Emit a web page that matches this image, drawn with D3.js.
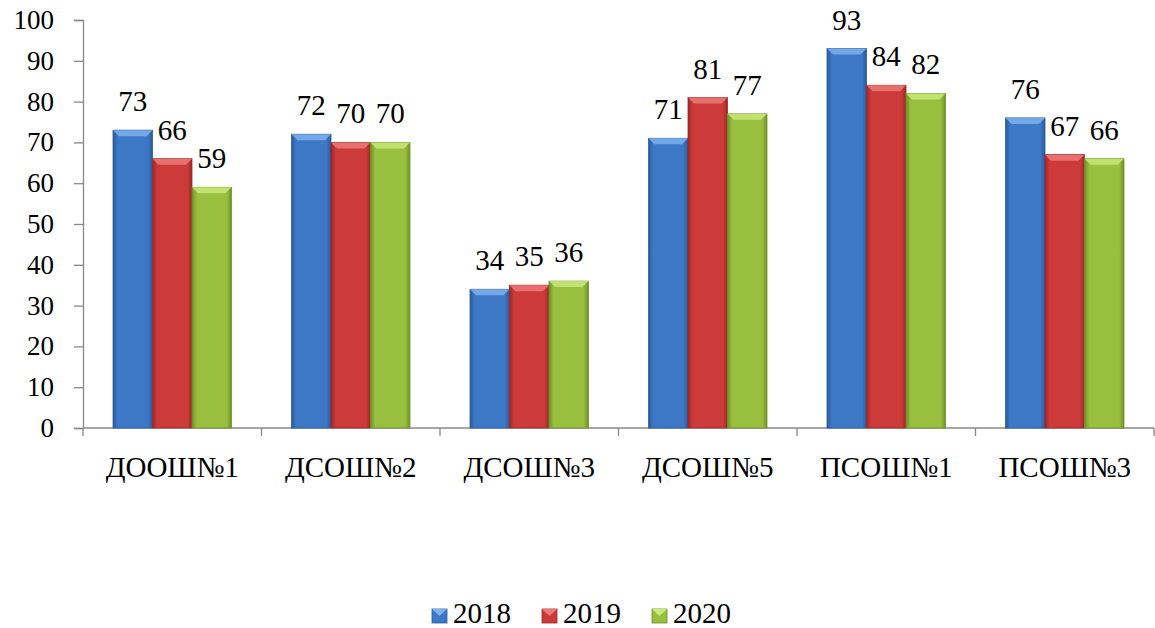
<!DOCTYPE html>
<html><head><meta charset="utf-8">
<script src="https://cdn.jsdelivr.net/npm/d3@7"></script>
</head>
<body style="margin:0">
<svg id="s" width="1155" height="628" font-family="Times New Roman, serif" style="font-family: 'Times New Roman', 'Liberation Serif', serif"></svg>
<script>
// data
var schools = ["ДООШ№1", "ДСОШ№2", "ДСОШ№3", "ДСОШ№5", "ПСОШ№1", "ПСОШ№3"];
var years = ["2018", "2019", "2020"];
var values2018 = [73, 72, 34, 71, 93, 76];
var values2019 = [66, 70, 35, 81, 84, 67];
var values2020 = [59, 70, 36, 77, 82, 66];
var yTicks = [0, 10, 20, 30, 40, 50, 60, 70, 80, 90, 100];

var seriesValues = [values2018, values2019, values2020];
var colors = ["#3d78c6", "#cc3b3a", "#98bf3e"];
var lights = ["#7fb0ec", "#ec7b78", "#c8e87a"];
var darks = ["#2a5a9c", "#9c2828", "#6f9128"];

var svg = d3.select("#s");

// scales
var x0 = d3.scaleBand().domain(schools).range([83, 1154]).padding(0);
var x1 = d3.scaleBand().domain(years).range([0, x0.bandwidth()]).paddingInner(0).paddingOuter(0.76);
var y = d3.scaleLinear().domain([0, 100]).range([428, 20]);

// gradients for bevelled bars
var defs = svg.append("defs");
years.forEach(function (yr, i) {
    var g = defs.append("linearGradient").attr("id", "grad" + i)
        .attr("x1", 0).attr("x2", 1).attr("y1", 0).attr("y2", 0);
    g.append("stop").attr("offset", "0%").attr("stop-color", darks[i]);
    g.append("stop").attr("offset", "12%").attr("stop-color", colors[i]);
    g.append("stop").attr("offset", "88%").attr("stop-color", colors[i]);
    g.append("stop").attr("offset", "100%").attr("stop-color", darks[i]);
});

// y axis line and ticks
var yAxis = svg.append("g")
    .attr("transform", "translate(83,0)")
    .call(d3.axisLeft(y).tickValues(yTicks).tickSize(9).tickFormat(""));
yAxis.attr("font-family", null).attr("font-size", null);
yAxis.select(".domain").attr("stroke", "#888").attr("stroke-width", 1.3);
yAxis.selectAll(".tick line").attr("stroke", "#888").attr("stroke-width", 1.3);
yAxis.selectAll(".tick text").remove();

// y tick labels
svg.selectAll(".ylab").data(yTicks).enter().append("text")
    .attr("x", 54)
    .attr("y", function (d) { return y(d) + 9; })
    .attr("text-anchor", "end")
    .attr("font-size", 27)
    .text(function (d) { return d; });

// x axis
var xAxisG = svg.append("g").attr("transform", "translate(0,428)");
xAxisG.append("line").attr("x1", 83).attr("x2", 1154).attr("y1", 0).attr("y2", 0)
    .attr("stroke", "#888").attr("stroke-width", 1.3);
var tickPos = schools.map(function (s) { return x0(s); }).concat([x0(schools[schools.length - 1]) + x0.bandwidth()]);
xAxisG.selectAll(".xt").data(tickPos).enter().append("line")
    .attr("x1", function (d) { return d; }).attr("x2", function (d) { return d; })
    .attr("y1", 0).attr("y2", 8).attr("stroke", "#888").attr("stroke-width", 1.3);

svg.selectAll(".xlab").data(schools).enter().append("text")
    .attr("x", function (d) { return x0(d) + x0.bandwidth() / 2; })
    .attr("y", 477)
    .attr("text-anchor", "middle")
    .attr("font-size", 29)
    .text(function (d) { return d; });

// bars
schools.forEach(function (school, si) {
    var g = svg.append("g").attr("transform", "translate(" + x0(school) + ",0)");
    years.forEach(function (yr, i) {
        var v = seriesValues[i][si];
        var bx = x1(yr), bw = x1.bandwidth(), by = y(v), bh = y(0) - y(v);
        g.append("rect")
            .attr("x", bx).attr("y", by).attr("width", bw).attr("height", bh)
            .attr("fill", "url(#grad" + i + ")")
            .attr("stroke", darks[i]).attr("stroke-width", 0.8);
        // top bevel
        var bev = Math.min(6, bh / 2);
        g.append("path")
            .attr("d", "M" + bx + "," + by + "L" + (bx + bw) + "," + by +
                "L" + (bx + bw - bev) + "," + (by + bev) + "L" + (bx + bev) + "," + (by + bev) + "Z")
            .attr("fill", lights[i]).attr("opacity", 0.85);
    });
});

// value labels
schools.forEach(function (school, si) {
    years.forEach(function (yr, i) {
        var v = seriesValues[i][si];
        svg.append("text")
            .attr("x", x0(school) + x1(yr) + x1.bandwidth() / 2)
            .attr("y", y(v) - 19)
            .attr("text-anchor", "middle")
            .attr("font-size", 29)
            .text(v);
    });
});

// legend
years.forEach(function (yr, i) {
    var lx = 432 + i * 110;
    svg.append("rect")
        .attr("x", lx).attr("y", 609).attr("width", 15).attr("height", 14)
        .attr("fill", colors[i]).attr("stroke", darks[i]).attr("stroke-width", 0.8);
    svg.append("path")
        .attr("d", "M" + lx + ",609L" + (lx + 15) + ",609L" + (lx + 7.5) + ",616Z")
        .attr("fill", lights[i]);
    svg.append("text")
        .attr("x", lx + 21).attr("y", 623)
        .attr("font-size", 29)
        .text(yr);
});
</script>
</body></html>
